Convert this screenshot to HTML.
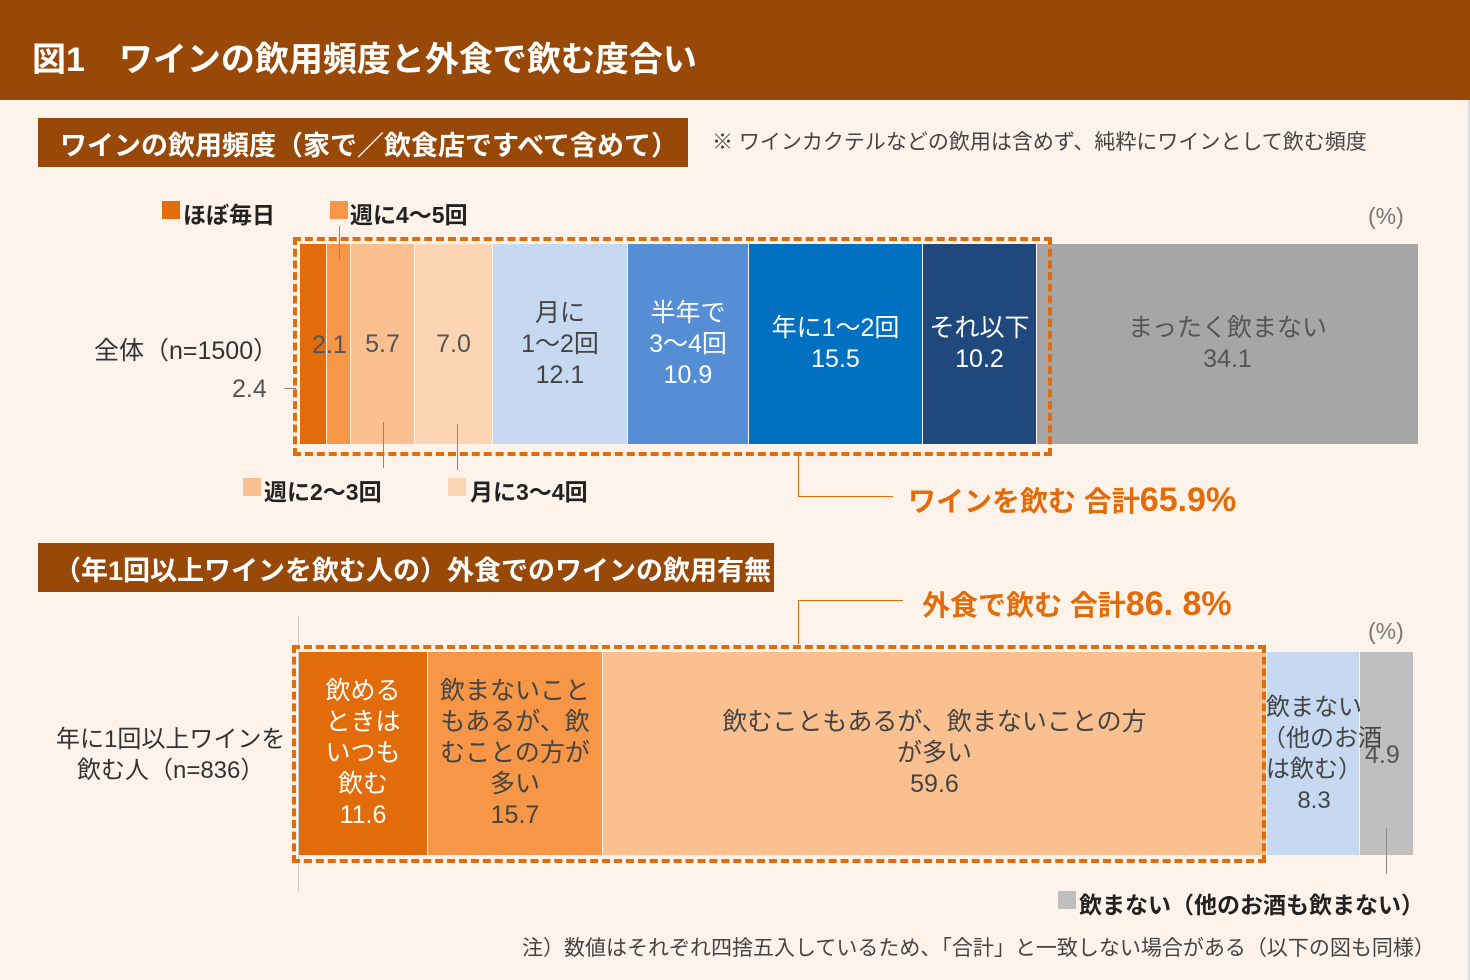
<!DOCTYPE html><html><head><meta charset="utf-8"><style>
body{margin:0;width:1470px;height:980px;background:#fdf3ea;position:relative;overflow:hidden;font-family:"Liberation Sans","Noto Sans CJK JP",sans-serif;}
.a{position:absolute;}
.s{position:absolute;display:flex;flex-direction:column;align-items:center;justify-content:center;text-align:center;font-size:25px;line-height:31px;}
.t{position:absolute;white-space:nowrap;}
</style></head><body>
<div class="a" style="left:0;top:0;width:1470px;height:100px;background:#984807"></div>
<div class="t" style="left:32px;top:32px;font-size:34px;font-weight:bold;color:#fff">図1　ワインの飲用頻度と外食で飲む度合い</div>
<div class="a" style="left:1468px;top:100px;width:2px;height:880px;background:#ddd"></div>

<div class="a" style="left:38px;top:118px;width:650px;height:49px;background:#984807"></div>
<div class="t" style="left:60px;top:124px;font-size:27px;color:#fff;font-weight:bold">ワインの飲用頻度（家で／飲食店ですべて含めて）</div>
<div class="t" style="left:712px;top:126px;font-size:21px;color:#444">※ ワインカクテルなどの飲用は含めず、純粋にワインとして飲む頻度</div>
<div class="t" style="left:1368px;top:203px;font-size:23px;color:#777">(%)</div>

<div class="a" style="left:162px;top:201px;width:18px;height:18px;background:#e36c0a"></div>
<div class="t" style="left:183px;top:196px;font-size:23px;color:#222;font-weight:bold">ほぼ毎日</div>
<div class="a" style="left:330px;top:201px;width:18px;height:18px;background:#f79646"></div>
<div class="t" style="left:350px;top:196px;font-size:23px;color:#222;font-weight:bold">週に4～5回</div>
<div class="a" style="left:243px;top:478px;width:18px;height:18px;background:#fac090"></div>
<div class="t" style="left:264px;top:473px;font-size:23px;color:#222;font-weight:bold">週に2～3回</div>
<div class="a" style="left:448px;top:478px;width:18px;height:18px;background:#fcd5b5"></div>
<div class="t" style="left:470px;top:473px;font-size:23px;color:#222;font-weight:bold">月に3～4回</div>

<div class="t" style="left:94px;top:331px;font-size:25px;color:#333">全体（n=1500）</div>
<div class="t" style="left:232px;top:375px;font-size:25px;color:#555">2.4</div>
<div class="a" style="left:284px;top:388px;width:12px;height:1px;background:#888"></div>

<div class="s" style="left:300px;top:244px;width:26px;height:200px;background:#e36c0a"></div>
<div class="s" style="left:327px;top:244px;width:23px;height:200px;background:#f79646"></div>
<div class="s" style="left:351px;top:244px;width:63px;height:200px;background:#fac090;color:#555">5.7</div>
<div class="s" style="left:415px;top:244px;width:77px;height:200px;background:#fcd5b5;color:#555">7.0</div>
<div class="s" style="left:493px;top:244px;width:134px;height:200px;background:#c6d9f1;color:#444">月に<br>1～2回<br>12.1</div>
<div class="s" style="left:628px;top:244px;width:120px;height:200px;background:#558ed5;color:#fff">半年で<br>3～4回<br>10.9</div>
<div class="s" style="left:749px;top:244px;width:173px;height:200px;background:#0070c0;color:#fff">年に1～2回<br>15.5</div>
<div class="s" style="left:923px;top:244px;width:113px;height:200px;background:#1f497d;color:#fff">それ以下<br>10.2</div>
<div class="s" style="left:1037px;top:244px;width:381px;height:200px;background:#a6a6a6;color:#555">まったく飲まない<br>34.1</div>
<div class="t" style="left:312px;top:331px;font-size:25px;color:#555">2.1</div>
<div class="a" style="left:339px;top:226px;width:1px;height:34px;background:#888"></div>
<div class="a" style="left:383px;top:422px;width:1px;height:46px;background:#888"></div>
<div class="a" style="left:457px;top:424px;width:1px;height:46px;background:#888"></div>
<div class="a" style="left:293px;top:237px;width:751px;height:211px;border:4px dashed #e36c0a"></div>
<div class="a" style="left:798px;top:452px;width:1px;height:44px;background:#e36c0a"></div>
<div class="a" style="left:798px;top:496px;width:95px;height:1px;background:#e36c0a"></div>
<div class="t" style="left:908px;top:480px;font-size:28px;color:#e36c0a;font-weight:bold">ワインを飲む 合計<span style="font-size:34px">65.9%</span></div>

<div class="a" style="left:38px;top:543px;width:736px;height:49px;background:#984807"></div>
<div class="t" style="left:54px;top:549px;font-size:27px;color:#fff;font-weight:bold">（年1回以上ワインを飲む人の）外食でのワインの飲用有無</div>
<div class="t" style="left:922px;top:584px;font-size:28px;color:#e36c0a;font-weight:bold">外食で飲む 合計<span style="font-size:34px">86. 8%</span></div>
<div class="a" style="left:798px;top:600px;width:1px;height:44px;background:#e36c0a"></div>
<div class="a" style="left:798px;top:600px;width:105px;height:1px;background:#e36c0a"></div>
<div class="t" style="left:1368px;top:618px;font-size:23px;color:#777">(%)</div>

<div class="t" style="left:56px;top:724px;font-size:24px;color:#333;text-align:center;line-height:31px">年に1回以上ワインを<br>飲む人（n=836）</div>
<div class="a" style="left:298px;top:615px;width:1px;height:276px;background:#ccc"></div>
<div class="s" style="left:299px;top:652px;width:128px;height:203px;background:#e36c0a;color:#fff">飲める<br>ときは<br>いつも<br>飲む<br>11.6</div>
<div class="s" style="left:428px;top:652px;width:174px;height:203px;background:#f79646;color:#444">飲まないこと<br>もあるが、飲<br>むことの方が<br>多い<br>15.7</div>
<div class="s" style="left:603px;top:652px;width:663px;height:203px;background:#fac090;color:#444">飲むこともあるが、飲まないことの方<br>が多い<br>59.6</div>
<div class="a" style="left:1267px;top:652px;width:92px;height:203px;background:#c6d9f1"></div>
<div class="a" style="left:1360px;top:652px;width:53px;height:203px;background:#bfbfbf"></div>
<div class="t" style="left:1262px;top:692px;width:104px;font-size:24px;line-height:31px;color:#444;text-align:center;white-space:nowrap">飲まない<br>（他のお酒<br>は飲む）<br>8.3</div>
<div class="t" style="left:1365px;top:741px;font-size:25px;color:#555">4.9</div>
<div class="a" style="left:1386px;top:828px;width:1px;height:46px;background:#888"></div>
<div class="a" style="left:292px;top:645px;width:966px;height:210px;border:4px dashed #e36c0a"></div>
<div class="a" style="left:1058px;top:891px;width:18px;height:18px;background:#bfbfbf"></div>
<div class="t" style="left:1079px;top:886px;font-size:23px;color:#222;font-weight:bold">飲まない（他のお酒も飲まない）</div>
<div class="t" style="left:522px;top:932px;font-size:21px;color:#444">注）数値はそれぞれ四捨五入しているため、「合計」と一致しない場合がある（以下の図も同様）</div>
</body></html>
